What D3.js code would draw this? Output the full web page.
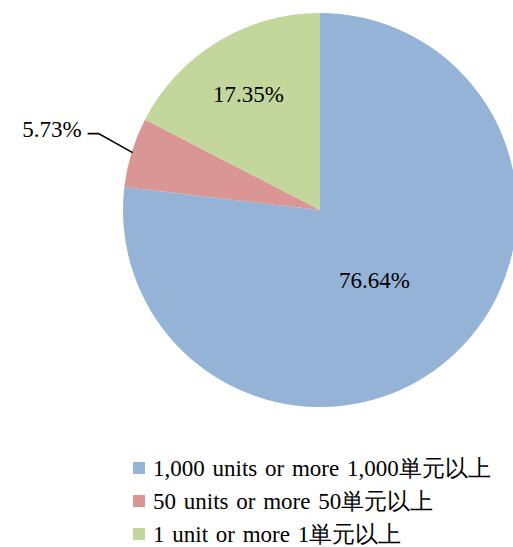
<!DOCTYPE html>
<html>
<head>
<meta charset="utf-8">
<script src="https://cdn.jsdelivr.net/npm/d3@7"></script>
<style>
  body { margin: 0; background: #fff; }
  text { font-family: "Liberation Serif", "Times New Roman", serif; fill: #000; }
</style>
</head>
<body>
<div id="chart"></div>
<script>
// categories and shares (%), clockwise from 12 o'clock
var categories = ["1,000 units or more 1,000単元以上", "50 units or more 50単元以上", "1 unit or more 1単元以上"];
var values = [76.64, 5.73, 17.35];
var labels = ["76.64%", "5.73%", "17.35%"];
var colors = ["#95B3D7", "#D99694", "#C3D69B"];

var svgWidth = 513, svgHeight = 547;
var cx = 320, cy = 210, radius = 197;

var svg = d3.select("#chart").append("svg")
    .attr("width", svgWidth)
    .attr("height", svgHeight);

var pieGroup = svg.append("g")
    .attr("transform", `translate(${cx}, ${cy})`);

var pie = d3.pie().sort(null).value(d => d);
var arcs = pie(values);

var arc = d3.arc().innerRadius(0).outerRadius(radius);

pieGroup.selectAll("path")
    .data(arcs)
    .enter()
    .append("path")
    .attr("d", arc)
    .attr("fill", (d, i) => colors[i]);

// inside labels for the two big slices (radius ratio + small nudge)
var insideLabel = [
    { ratio: 0.45, dx: -4.5, dy: 4 },
    null,
    { ratio: 0.69, dx: -1, dy: 0 }
];
arcs.forEach(function (d, i) {
    var o = insideLabel[i];
    if (!o) return;
    var r = radius * o.ratio;
    var c = d3.arc().innerRadius(r).outerRadius(r).centroid(d);
    pieGroup.append("text")
        .attr("x", c[0] + o.dx)
        .attr("y", c[1] + o.dy)
        .attr("dy", "0.35em")
        .attr("text-anchor", "middle")
        .attr("font-size", 23)
        .text(labels[i]);
});

// leader line for the small slice
var small = arcs[1];
var edge = d3.arc().innerRadius(radius - 1).outerRadius(radius - 1).centroid(small);
var elbow = [edge[0] - 34, edge[1] - 19];
var tail = [elbow[0] - 11, elbow[1]];
pieGroup.append("polyline")
    .attr("points", [edge, elbow, tail].map(p => p.join(",")).join(" "))
    .attr("fill", "none")
    .attr("stroke", "#000")
    .attr("stroke-width", 1.6);
pieGroup.append("text")
    .attr("x", tail[0] - 6)
    .attr("y", tail[1] - 5)
    .attr("dy", "0.35em")
    .attr("text-anchor", "end")
    .attr("font-size", 23)
    .text(labels[1]);

// legend
var legend = svg.append("g").attr("transform", "translate(133, 468)");
var rowY = d3.scalePoint().domain(d3.range(categories.length)).range([0, 66]);
var rows = legend.selectAll("g")
    .data(categories)
    .enter()
    .append("g")
    .attr("transform", (d, i) => `translate(0, ${rowY(i)})`);
rows.append("rect")
    .attr("x", 0)
    .attr("y", -6)
    .attr("width", 12)
    .attr("height", 12)
    .attr("fill", (d, i) => colors[i]);
rows.append("text")
    .attr("x", 20)
    .attr("y", 0)
    .attr("dy", "0.33em")
    .attr("font-size", 23)
    .attr("word-spacing", 2)
    .text(d => d);
</script>
</body>
</html>
